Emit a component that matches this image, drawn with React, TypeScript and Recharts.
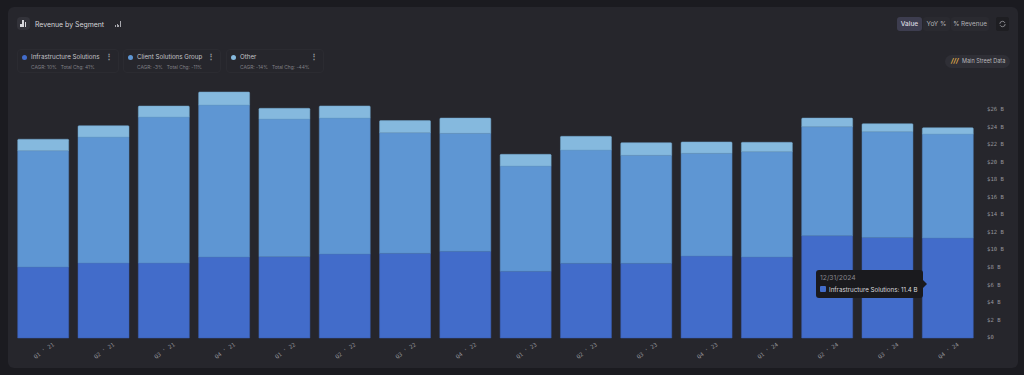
import { BarChart, Bar, XAxis, YAxis } from 'recharts';

const quarters = [
  "Q1 ' 21", "Q2 ' 21", "Q3 ' 21", "Q4 ' 21",
  "Q1 ' 22", "Q2 ' 22", "Q3 ' 22", "Q4 ' 22",
  "Q1 ' 23", "Q2 ' 23", "Q3 ' 23", "Q4 ' 23",
  "Q1 ' 24", "Q2 ' 24", "Q3 ' 24", "Q4 ' 24",
];
const infrastructure = [8.09, 8.54, 8.54, 9.23, 9.26, 9.57, 9.65, 9.87, 7.6, 8.51, 8.51, 9.34, 9.23, 11.65, 11.45, 11.4];
const clientSolutions = [13.25, 14.35, 16.63, 17.31, 15.68, 15.49, 13.74, 13.44, 11.99, 12.9, 12.3, 11.7, 11.99, 12.41, 12.05, 11.83];
const other = [1.3, 1.29, 1.25, 1.48, 1.22, 1.37, 1.37, 1.74, 1.33, 1.56, 1.44, 1.29, 1.07, 0.99, 0.91, 0.72];
const yTicks = [0, 2, 4, 6, 8, 10, 12, 14, 16, 18, 20, 22, 24, 26];

const legendItems = [
  { name: 'Infrastructure Solutions', color: '#426cca', cagr: '10%', total: '41%', left: 17, width: 102 },
  { name: 'Client Solutions Group', color: '#5e96d3', cagr: '-3%', total: '-11%', left: 123, width: 98 },
  { name: 'Other', color: '#85b9de', cagr: '-14%', total: '-44%', left: 226, width: 98 },
];

const data = quarters.map((q, i) => ({
  quarter: q,
  infrastructure: infrastructure[i],
  clientSolutions: clientSolutions[i],
  other: other[i],
}));

const FONT = 'Inter, sans-serif';
const MONO = '"DejaVu Sans Mono", monospace';

function BarsIcon() {
  return (
    <div style={{ position: 'absolute', left: 17, top: 17, width: 13, height: 13, borderRadius: 4, background: '#33333a' }}>
      <div style={{ position: 'absolute', left: 3, bottom: 3, display: 'flex', alignItems: 'flex-end', gap: 0.6 }}>
        {[3, 7, 5].map((h, i) => (
          <span key={i} style={{ width: 1.7, height: h, background: '#d8d8dc', display: 'block' }} />
        ))}
      </div>
    </div>
  );
}

export default function App() {
  return (
    <div style={{ position: 'absolute', left: 0, top: 0, width: 1024, height: 375, background: '#1b1b20', overflow: 'hidden', fontFamily: FONT }}>
      <div style={{ position: 'absolute', left: 8, top: 7, width: 1010, height: 361, background: '#26262c', borderRadius: 6 }} />

      <BarsIcon />
      <div style={{ position: 'absolute', left: 35, top: 19.5, fontSize: 6.9, color: '#d4d4d8', whiteSpace: 'nowrap' }}>Revenue by Segment</div>
      <div style={{ position: 'absolute', left: 115, top: 21, display: 'flex', alignItems: 'flex-end', gap: 0.6, height: 6 }}>
        {[2, 3, 2, 6].map((h, i) => (
          <span key={i} style={{ width: 1, height: h, background: '#a8a8ae', display: 'block' }} />
        ))}
      </div>

      {legendItems.map((item) => (
        <div key={item.name} style={{ position: 'absolute', left: item.left, top: 49, width: item.width, height: 24, border: '1px solid #2b2b31', borderRadius: 4, boxSizing: 'border-box' }}>
          <span style={{ position: 'absolute', left: 4, top: 4.5, width: 5, height: 5, borderRadius: '50%', background: item.color }} />
          <span style={{ position: 'absolute', left: 13, top: 3, fontSize: 6.2, color: '#c4c4c8', whiteSpace: 'nowrap' }}>{item.name}</span>
          <span style={{ position: 'absolute', right: 5, top: 1, fontSize: 8, color: '#9a9aa0', fontWeight: 700 }}>⋮</span>
          <span style={{ position: 'absolute', left: 13, top: 14, fontSize: 4.8, color: '#818187', whiteSpace: 'nowrap' }}>
            CAGR: {item.cagr}&nbsp;&nbsp;&nbsp;Total Chg: {item.total}
          </span>
        </div>
      ))}

      <div style={{ position: 'absolute', left: 897, top: 17, width: 25, height: 14, borderRadius: 3, background: '#3d3d4f', color: '#dcdce0', fontSize: 6.5, lineHeight: '14px', textAlign: 'center', fontWeight: 500 }}>Value</div>
      <div style={{ position: 'absolute', left: 923, top: 17, width: 27, height: 14, borderRadius: 3, background: '#2a2a30', color: '#b4b4b8', fontSize: 6.5, lineHeight: '14px', textAlign: 'center' }}>YoY %</div>
      <div style={{ position: 'absolute', left: 951, top: 17, width: 38, height: 14, borderRadius: 3, background: '#2a2a30', color: '#b4b4b8', fontSize: 6.3, lineHeight: '14px', textAlign: 'center' }}>% Revenue</div>
      <div style={{ position: 'absolute', left: 996, top: 17, width: 13, height: 14, borderRadius: 2, background: '#1e1e22' }}>
        <svg width={13} height={14} style={{ display: 'block' }}>
          <circle cx={6.5} cy={7} r={2.7} fill="none" stroke="#8e8e94" strokeWidth={0.9} strokeDasharray="7 1.5" />
        </svg>
      </div>

      <div style={{ position: 'absolute', left: 945, top: 55, width: 65, height: 13, borderRadius: 7, background: '#2f2f36', color: '#b8b8bc', fontSize: 5.5, lineHeight: '13px', whiteSpace: 'nowrap' }}>
        <span style={{ position: 'absolute', left: 6, color: '#e2b04a', fontWeight: 700, fontStyle: 'italic', fontSize: 6.5 }}>///</span>
        <span style={{ position: 'absolute', left: 17 }}>Main Street Data</span>
      </div>

      <div style={{ position: 'absolute', left: 0, top: 0 }}>
        <BarChart
          width={1024}
          height={375}
          data={data}
          margin={{ top: 74.6, right: 6.4, bottom: 7, left: 12.7 }}
          barSize={51}
        >
          <XAxis
            dataKey="quarter"
            interval={0}
            axisLine={false}
            tickLine={false}
            tickSize={0}
            tickMargin={11}
            height={30}
            angle={-35}
            textAnchor="middle"
            tick={{ fontSize: 5.6, fill: '#95959b', fontFamily: MONO }}
          />
          <YAxis
            orientation="right"
            domain={[0, 30]}
            ticks={yTicks}
            interval={0}
            axisLine={false}
            tickLine={false}
            tickSize={0}
            tickMargin={9.5}
            width={40}
            tickFormatter={(v: number) => (v === 0 ? '$0' : `$${v} B`)}
            tick={{ fontSize: 5.6, fill: '#95959b', fontFamily: MONO, dy: -0.7 }}
          />
          <Bar dataKey="infrastructure" stackId="a" fill="#426cca" stroke="#3a5fb2" strokeWidth={0.5} isAnimationActive={false} />
          <Bar dataKey="clientSolutions" stackId="a" fill="#5e96d3" stroke="#5485bb" strokeWidth={0.5} isAnimationActive={false} />
          <Bar dataKey="other" stackId="a" fill="#85b9de" stroke="#6ea2c8" strokeWidth={0.5} radius={[1, 1, 0, 0]} isAnimationActive={false} />
        </BarChart>
      </div>

      <div style={{ position: 'absolute', left: 816, top: 270, width: 107, height: 28, borderRadius: 3, background: '#1a1a1e' }}>
        <span style={{ position: 'absolute', left: 4, top: 3, fontSize: 6.8, color: '#85858b', whiteSpace: 'nowrap' }}>12/31/2024</span>
        <span style={{ position: 'absolute', left: 4, top: 16, width: 6, height: 6, borderRadius: 1, background: '#426cca' }} />
        <span style={{ position: 'absolute', left: 13, top: 15.5, fontSize: 6.2, color: '#d8d8dc', whiteSpace: 'nowrap' }}>Infrastructure Solutions: 11.4 B</span>
        <span style={{ position: 'absolute', left: 107, top: 10, width: 0, height: 0, borderTop: '4px solid transparent', borderBottom: '4px solid transparent', borderLeft: '4px solid #1a1a1e' }} />
      </div>
    </div>
  );
}
